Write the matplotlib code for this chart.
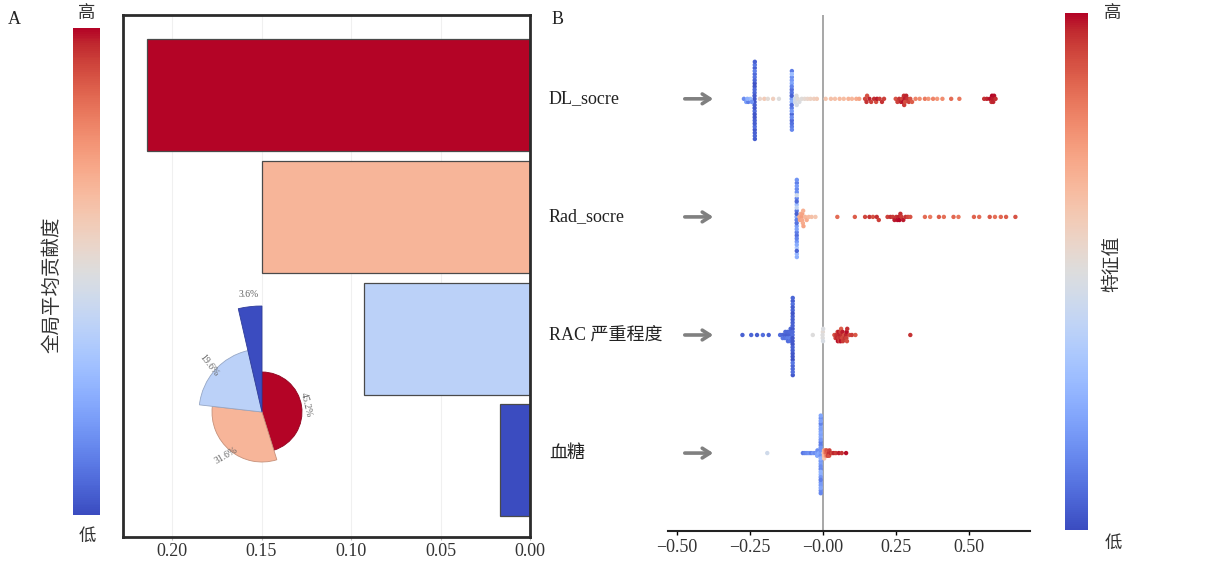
import numpy as np
import matplotlib
matplotlib.use("Agg")
import matplotlib.pyplot as plt
from matplotlib import transforms
from matplotlib.colors import Normalize
from matplotlib.cm import ScalarMappable

plt.rcParams['font.family'] = ['Liberation Serif', 'Noto Sans CJK SC']
plt.rcParams['axes.unicode_minus'] = True

# ---------------- data ----------------
features = ['DL_socre', 'Rad_socre', 'RAC 严重程度', '血糖']
mean_abs_shap = [0.2138, 0.1495, 0.0927, 0.0170]
bar_ticks = [0.20, 0.15, 0.10, 0.05, 0.00]
bar_ticklabels = ['0.20', '0.15', '0.10', '0.05', '0.00']
swarm_ticks = [-0.50, -0.25, 0.0, 0.25, 0.50]
swarm_ticklabels = ['\u22120.50', '\u22120.25', '\u22120.00', '0.25', '0.50']

dl_shap = [
    -0.2335, -0.2330, -0.2328, -0.2332, -0.2334, -0.2326, -0.2331, -0.2329, -0.2333, -0.2327, -0.2336, -0.2330, -0.2325,
    -0.2334, -0.2331, -0.2329, -0.2332, -0.2328, -0.2333, -0.2330, -0.2327, -0.2335, -0.2331, -0.2329, -0.2326, -0.2332,
    -0.270, -0.262, -0.255, -0.248, -0.243, -0.258,
    -0.215, -0.200, -0.188, -0.170, -0.150,
    -0.1062, -0.1058, -0.1060, -0.1064, -0.1057, -0.1061, -0.1059, -0.1063, -0.1056, -0.1060,
    -0.1062, -0.1058, -0.1061, -0.1059, -0.1064, -0.1057, -0.1060, -0.1063, -0.1058, -0.1061,
    -0.095, -0.094, -0.090, -0.089, -0.086, -0.080, -0.072, -0.062, -0.052, -0.042, -0.030, -0.020,
    0.010, 0.028, 0.042, 0.058, 0.072, 0.088, 0.100, 0.115, 0.125,
    0.145, 0.150, 0.152, 0.160, 0.166, 0.176, 0.183, 0.186, 0.195, 0.203, 0.210,
    0.250, 0.256, 0.262, 0.268, 0.272, 0.276, 0.278, 0.279, 0.281, 0.282, 0.286, 0.290, 0.295, 0.300, 0.306,
    0.318, 0.332, 0.350, 0.362, 0.378, 0.392, 0.410, 0.440, 0.468,
    0.553, 0.562, 0.572, 0.578, 0.580, 0.582, 0.584, 0.587, 0.592,
]
dl_feat = [
    0.02, 0.05, 0.03, 0.08, 0.04, 0.06, 0.01, 0.07, 0.03, 0.05, 0.02, 0.09, 0.04,
    0.06, 0.03, 0.08, 0.02, 0.05, 0.07, 0.04, 0.10, 0.03, 0.06, 0.12, 0.05, 0.02,
    0.15, 0.20, 0.12, 0.30, 0.18, 0.25,
    0.55, 0.60, 0.52, 0.58, 0.50,
    0.10, 0.16, 0.06, 0.20, 0.12, 0.08, 0.18, 0.05, 0.14, 0.22,
    0.12, 0.09, 0.19, 0.07, 0.25, 0.11, 0.15, 0.08, 0.30, 0.13,
    0.45, 0.48, 0.50, 0.47, 0.52, 0.49, 0.51, 0.53, 0.55, 0.57, 0.58, 0.60,
    0.62, 0.64, 0.63, 0.66, 0.65, 0.68, 0.67, 0.70, 0.72,
    0.92, 0.95, 0.90, 0.97, 0.93, 0.96, 0.91, 0.98, 0.94, 0.95, 0.93,
    0.90, 0.93, 0.95, 0.97, 0.92, 0.99, 0.96, 0.94, 0.98, 0.91, 0.97, 0.95, 0.93, 0.90, 0.88,
    0.80, 0.78, 0.82, 0.76, 0.80, 0.75, 0.78, 0.85, 0.83,
    0.95, 0.97, 0.99, 0.96, 1.00, 0.98, 0.97, 0.99, 0.96,
]

rad_shap = [
    -0.0892, -0.0888, -0.0890, -0.0894, -0.0887, -0.0891, -0.0889, -0.0893, -0.0886, -0.0890, -0.0892, -0.0888, -0.0891,
    -0.0889, -0.0893, -0.0887, -0.0890, -0.0892, -0.0888, -0.0891, -0.0889, -0.0894, -0.0887, -0.0890, -0.0892, -0.0888,
    -0.080, -0.078, -0.075, -0.072, -0.071, -0.070, -0.068, -0.067, -0.066, -0.060, -0.055, -0.048, -0.038, -0.025,
    0.050, 0.110,
    0.145, 0.160, 0.172, 0.185, 0.192,
    0.222, 0.232, 0.240, 0.246, 0.252, 0.256, 0.260, 0.263, 0.266, 0.270, 0.276, 0.284, 0.292, 0.300,
    0.350, 0.368, 0.398, 0.415, 0.448, 0.465, 0.518, 0.536, 0.572, 0.590, 0.610, 0.628, 0.660,
]
rad_feat = [
    0.10, 0.15, 0.08, 0.22, 0.12, 0.30, 0.18, 0.05, 0.25, 0.14, 0.20, 0.35, 0.11,
    0.16, 0.09, 0.28, 0.13, 0.40, 0.19, 0.07, 0.24, 0.12, 0.17, 0.45, 0.21, 0.06,
    0.70, 0.72, 0.68, 0.74, 0.71, 0.73, 0.70, 0.69, 0.72, 0.67, 0.70, 0.66, 0.64, 0.62,
    0.85, 0.88,
    0.92, 0.95, 0.90, 0.96, 0.93,
    0.93, 0.96, 0.94, 0.98, 0.95, 0.99, 0.97, 1.00, 0.96, 0.94, 0.98, 0.95, 0.92, 0.90,
    0.85, 0.82, 0.88, 0.84, 0.86, 0.83, 0.87, 0.85, 0.89, 0.84, 0.86, 0.88, 0.90,
]

rac_shap = [
    -0.275, -0.245, -0.225, -0.205, -0.185,
    -0.146, -0.138, -0.137, -0.130, -0.129, -0.128, -0.122, -0.121, -0.120, -0.119, -0.114, -0.113, -0.112, -0.111, -0.110,
    -0.1032, -0.1028, -0.1030, -0.1034, -0.1027, -0.1031, -0.1029, -0.1033, -0.1026, -0.1030, -0.1032, -0.1028, -0.1031,
    -0.1029, -0.1033, -0.1027, -0.1030, -0.1032, -0.1028, -0.1031, -0.1029, -0.1034, -0.1027, -0.1030, -0.1032, -0.1029,
    -0.034,
    0.000, 0.001, 0.0005, -0.0005, 0.0015,
    0.040, 0.044, 0.047, 0.050, 0.051, 0.052, 0.053, 0.054, 0.055, 0.058, 0.059, 0.060, 0.061, 0.062, 0.063,
    0.066, 0.067, 0.068, 0.069, 0.074, 0.076, 0.080, 0.081, 0.082, 0.083, 0.084, 0.092, 0.100, 0.112,
    0.300,
]
rac_feat = [
    0.05, 0.06, 0.04, 0.08, 0.05,
    0.08, 0.06, 0.10, 0.05, 0.09, 0.07, 0.04, 0.11, 0.06, 0.08, 0.05, 0.12, 0.07, 0.09, 0.06,
    0.03, 0.06, 0.02, 0.08, 0.04, 0.05, 0.01, 0.07, 0.03, 0.05, 0.02, 0.09, 0.04,
    0.06, 0.03, 0.08, 0.02, 0.05, 0.07, 0.04, 0.10, 0.03, 0.06, 0.02, 0.05, 0.04,
    0.50,
    0.50, 0.48, 0.52, 0.50, 0.49,
    0.90, 0.93, 0.95, 0.97, 0.92, 0.99, 0.96, 0.94, 0.98, 0.91, 0.97, 0.95, 0.93, 0.99, 0.88,
    0.96, 0.92, 0.98, 0.94, 0.90, 0.95, 0.97, 0.93, 0.99, 0.91, 0.96, 0.92, 0.94, 0.89,
    0.95,
]

bg_shap = [
    -0.190,
    -0.068, -0.061, -0.054, -0.047, -0.040, -0.033, -0.026, -0.020, -0.019, -0.018, -0.0125,
    -0.0071, -0.0069, -0.0070, -0.0072, -0.0068, -0.0070, -0.0071, -0.0069, -0.0070, -0.0072,
    -0.0068, -0.0070, -0.0071, -0.0069, -0.0070, -0.0072, -0.0068, -0.0071, -0.0069, -0.0070,
    -0.0071, -0.0069, -0.0070, -0.0072, -0.0068, -0.0070, -0.0071, -0.0069, -0.0070, -0.0072,
    0.003, 0.004, 0.005, 0.0045, 0.007, 0.008, 0.009, 0.011, 0.012, 0.013, 0.016, 0.017,
    0.021, 0.022, 0.023, 0.027, 0.032, 0.038, 0.045, 0.055, 0.065, 0.080,
]
bg_feat = [
    0.45,
    0.10, 0.13, 0.15, 0.17, 0.12, 0.18, 0.15, 0.20, 0.22, 0.16, 0.24,
    0.18, 0.22, 0.14, 0.20, 0.16, 0.24, 0.12, 0.19, 0.26, 0.17,
    0.15, 0.21, 0.20, 0.13, 0.25, 0.17, 0.22, 0.11, 0.19, 0.23,
    0.16, 0.21, 0.18, 0.26, 0.14, 0.20, 0.18, 0.22, 0.12, 0.17,
    0.60, 0.65, 0.62, 0.70, 0.75, 0.68, 0.80, 0.85, 0.78, 0.90, 0.88, 0.92,
    0.95, 0.90, 0.93, 0.96, 0.92, 0.97, 0.94, 0.98, 0.95, 0.99,
]

swarm_shap = [dl_shap, rad_shap, rac_shap, bg_shap]
swarm_feat = [dl_feat, rad_feat, rac_feat, bg_feat]

# ---------------- figure ----------------
W, H = 1205, 563
fig = plt.figure(figsize=(W / 100, H / 100), dpi=100)
cmap = plt.get_cmap('coolwarm')


def fx(px):
    return px / W


def fy(py):
    return 1 - py / H


def rect(x0, y0, x1, y1):
    return [fx(x0), fy(y1), fx(x1) - fx(x0), fy(y0) - fy(y1)]


tick_fs = 13

# ---- panel A colourbar ----
caxA = fig.add_axes(rect(73, 28, 100, 515))
cbA = fig.colorbar(ScalarMappable(norm=Normalize(0, 1), cmap=cmap), cax=caxA)
cbA.set_ticks([])
cbA.outline.set_visible(False)
fig.text(fx(87), fy(14), '高', ha='center', va='center', fontsize=12.5, color='#333333')
fig.text(fx(87), fy(537), '低', ha='center', va='center', fontsize=12.5, color='#333333')
fig.text(fx(52), fy(285), '全局平均贡献度', ha='center', va='center', rotation=90,
         fontsize=14, color='#333333')
fig.text(fx(14), fy(20), 'A', ha='center', va='center', fontsize=13, color='#222222')

# ---- panel A bars ----
axA = fig.add_axes(rect(123, 15, 530, 537))
norm_bar = Normalize(min(mean_abs_shap), max(mean_abs_shap))
bar_colors = [cmap(norm_bar(v)) for v in mean_abs_shap]
ypos = np.arange(len(features))
axA.barh(ypos, mean_abs_shap, height=0.92, color=bar_colors, edgecolor='#4a4a4a',
         linewidth=0.9, zorder=2)
axA.set_xlim(0.2274, 0)
axA.set_ylim(3.63, -0.66)
axA.set_yticks([])
axA.set_xticks(bar_ticks)
axA.set_xticklabels(bar_ticklabels, fontsize=tick_fs, color='#333333')
axA.tick_params(axis='x', length=2, width=0.8, color='#bbbbbb', pad=2)
axA.grid(axis='x', color='#f0f0f0', linewidth=0.8, zorder=0)
for s in axA.spines.values():
    s.set_linewidth(2.0)
    s.set_color('#2b2b2b')

# ---- pie inset ----
pie_radii = [0.40, 0.50, 0.63, 1.06]
label_rot = [-77, 30, -52, 0]
axP = fig.add_axes([fx(262) - fx(125), fy(412) - 125 / H, fx(250), 250 / H])
axP.set_facecolor('none')
wedges, texts, autotexts = axP.pie(mean_abs_shap, colors=bar_colors, startangle=90,
                                   counterclock=False, autopct='%1.1f%%',
                                   textprops=dict(fontsize=7, color='#666666'))
for w, t, r, rot, c in zip(wedges, autotexts, pie_radii, label_rot, bar_colors):
    w.set_radius(r)
    w.set_edgecolor(tuple(np.clip(np.array(c[:3]) * 0.8, 0, 1)))
    w.set_linewidth(0.6)
    mid = np.deg2rad((w.theta1 + w.theta2) / 2)
    t.set_position((1.12 * r * np.cos(mid), 1.12 * r * np.sin(mid)))
    t.set_rotation(rot)
    t.set_ha('center')
    t.set_va('center')
axP.set_xlim(-1.25, 1.25)
axP.set_ylim(-1.25, 1.25)
axP.set_aspect('equal')
axP.axis('off')

# ---- panel B beeswarm ----
axB = fig.add_axes(rect(668, 15, 1030, 531))
axB.set_xlim(-0.53, 0.71)
axB.set_ylim(3.66, -0.71)
axB.axvline(0, color='#a0a0a0', linewidth=1.3, zorder=1)


def swarm_offsets(vals):
    vals = np.asarray(vals, dtype=float)
    binw = (vals.max() - vals.min()) / 100.0
    order = np.argsort(vals, kind='stable')
    ys = np.zeros(len(vals))
    start = None
    layer = 0
    for i in order:
        if start is None or vals[i] - start >= binw:
            start = vals[i]
            layer = 0
        ys[i] = np.ceil(layer / 2) * (1 if layer % 2 else -1)
        layer += 1
    return ys


for row, (sv, fv) in enumerate(zip(swarm_shap, swarm_feat)):
    sv = np.asarray(sv)
    fv = np.asarray(fv)
    ys = swarm_offsets(sv)
    ys = ys * 0.34 / np.abs(ys).max()
    axB.scatter(sv, row + ys, c=fv, cmap=cmap, vmin=0, vmax=1, s=10,
                linewidths=0, zorder=3)

trans_lbl = transforms.blended_transform_factory(fig.transFigure, axB.transData)
for row, name in enumerate(features):
    axB.text(fx(549), row, name, transform=trans_lbl, ha='left', va='center',
             fontsize=13, color='#222222')
    axB.annotate('', xy=(fx(716), row), xytext=(fx(682), row), xycoords=trans_lbl,
                 textcoords=trans_lbl,
                 arrowprops=dict(arrowstyle='->,head_length=0.55,head_width=0.35',
                                 color='#808080', lw=2.6))

axB.set_yticks([])
axB.set_xticks(swarm_ticks)
axB.set_xticklabels(swarm_ticklabels, fontsize=tick_fs, color='#333333')
axB.tick_params(axis='x', length=3, width=1.0, pad=3)
for side in ['left', 'right', 'top']:
    axB.spines[side].set_visible(False)
axB.spines['bottom'].set_linewidth(1.5)
axB.spines['bottom'].set_color('#222222')
fig.text(fx(558), fy(20), 'B', ha='center', va='center', fontsize=13, color='#222222')

# ---- panel B colourbar ----
caxB = fig.add_axes(rect(1065, 13, 1088, 530))
cbB = fig.colorbar(ScalarMappable(norm=Normalize(0, 1), cmap=cmap), cax=caxB)
cbB.set_ticks([])
cbB.outline.set_visible(False)
fig.text(fx(1113), fy(14), '高', ha='center', va='center', fontsize=12.5, color='#333333')
fig.text(fx(1113), fy(544), '低', ha='center', va='center', fontsize=12.5, color='#333333')
fig.text(fx(1113), fy(264), '特征值', ha='center', va='center', rotation=90,
         fontsize=13.5, color='#333333')

fig.savefig('out.png', dpi=100)
